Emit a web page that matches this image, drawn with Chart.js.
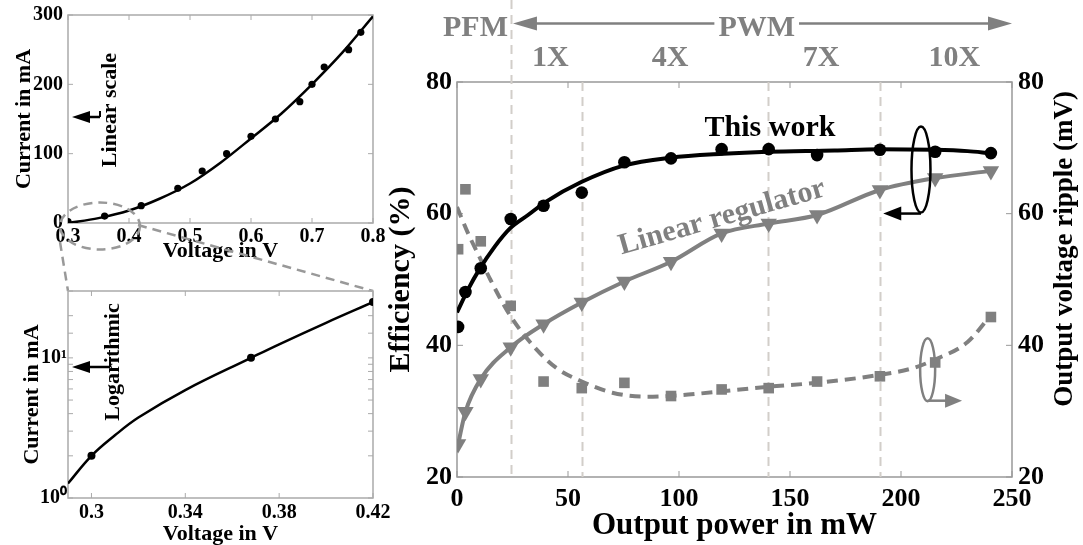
<!DOCTYPE html>
<html>
<head>
<meta charset="utf-8">
<script src="https://cdn.jsdelivr.net/npm/chart.js@4"></script>
<style>
  html, body { margin: 0; padding: 0; background: #fff; }
  #wrap { position: relative; width: 1083px; height: 545px; overflow: hidden; }
  #wrap canvas { position: absolute; left: 0; top: 0; }
</style>
</head>
<body>
<div id="wrap">
  <canvas id="chart-lin" width="1083" height="545"></canvas>
  <canvas id="chart-log" width="1083" height="545"></canvas>
  <canvas id="chart-eff" width="1083" height="545"></canvas>
</div>
<script>
// ---- I-V curve, linear scale (top left)
const ivVoltage = [0.3, 0.36, 0.42, 0.48, 0.52, 0.56, 0.6, 0.64, 0.68, 0.7, 0.72, 0.76, 0.78];
const ivCurrent = [2, 10, 25, 50, 75, 100, 125, 150, 175, 200, 225, 250, 275];
const ivFitVoltage = [0.3, 0.35, 0.4, 0.45, 0.5, 0.55, 0.6, 0.65, 0.7, 0.75, 0.8];
const ivFitCurrent = [0, 7, 18, 35, 57, 87, 122, 158, 200, 246, 298];
const linXTicks = [0.3, 0.4, 0.5, 0.6, 0.7, 0.8];
const linYTicks = [0, 100, 200, 300];

// ---- I-V curve, log scale (bottom left)
const logVoltage = [0.3, 0.368, 0.42];
const logCurrent = [2, 10, 25];
const logFitVoltage = [0.29, 0.3, 0.31, 0.32, 0.34, 0.368, 0.38, 0.4, 0.42];
const logFitCurrent = [1.27, 2, 2.8, 3.75, 5.89, 10, 12.5, 17.8, 25];
const logXTicks = [0.3, 0.34, 0.38, 0.42];

// ---- efficiency / ripple vs output power (right)
const outputPower = [0.5, 3.8, 10.7, 24.2, 39, 56.2, 75.4, 96.4, 119.2, 140.4, 162.2, 190.5, 215.4, 240.5];
const effThisWork = [42.8, 48.1, 51.7, 59.2, 61.2, 63.2, 67.8, 68.4, 69.8, 69.8, 68.9, 69.7, 69.4, 69.2];
const effLinearReg = [25, 29.9, 34.9, 39.7, 43.2, 46.5, 49.7, 52.7, 57.0, 58.5, 59.8, 63.6, 65.4, 66.5];
const rippleMv = [54.6, 63.7, 55.8, 46.0, 34.5, 33.5, 34.3, 32.3, 33.3, 33.5, 34.5, 35.3, 37.4, 44.3];
const effFitPower = [0, 5, 10, 17, 24, 32, 40, 56, 75, 96, 120, 140, 170, 190, 215, 230, 240];
const effFitValue = [45, 48.5, 51.5, 55, 57.8, 59.8, 61.8, 64.8, 67.3, 68.5, 69.1, 69.4, 69.6, 69.8, 69.7, 69.5, 69.2];
const rippleFitPower = [0, 5, 10, 15, 24, 36, 45, 55, 70, 85, 100, 110, 140, 165, 190, 205, 215, 230, 240];
const rippleFitValue = [61, 57, 53.5, 50, 44.5, 39.3, 36.5, 34.7, 32.8, 32.2, 32.4, 32.7, 33.7, 34.4, 35.5, 36.5, 37.8, 40.5, 44.4];
const powerTicks = [0, 50, 100, 150, 200, 250];
const effTicks = [20, 40, 60, 80];
const rippleTicks = [20, 40, 60, 80];
const modeBounds = [24.3, 56.3, 140, 190.5];
const modeLabels = ['1X', '4X', '7X', '10X'];
const modeLabelAt = [42, 96, 164, 224];

const FONT = '"Liberation Serif", "Times New Roman", serif';
const GRAY = '#808080';
Chart.defaults.font.family = FONT;
Chart.defaults.font.weight = 'bold';
Chart.defaults.color = '#000';

function pts(xs, ys) {
  return xs.map((x, i) => ({ x: x, y: ys[i] }));
}

function fixSize(size) {
  return function(scale) {
    if (scale.isHorizontal()) scale.height = size; else scale.width = size;
    scale.paddingLeft = 0; scale.paddingRight = 0;
    scale.paddingTop = 0; scale.paddingBottom = 0;
  };
}

function setTicks(values) {
  return function(scale) {
    scale.ticks = values.map(v => ({ value: v }));
  };
}

// MATLAB style box with inward ticks
const boxTicks = {
  id: 'boxTicks',
  beforeDatasetsDraw(chart, args, opts) {
    const { ctx, chartArea: a } = chart;
    const len = opts.length || 6;
    ctx.save();
    ctx.strokeStyle = opts.color || '#999';
    ctx.lineWidth = 1.5;
    ctx.strokeRect(a.left, a.top, a.width, a.height);
    ctx.lineWidth = 1;
    const xs = chart.scales.x;
    xs.ticks.forEach(t => {
      const px = xs.getPixelForValue(t.value);
      ctx.beginPath();
      ctx.moveTo(px, a.bottom); ctx.lineTo(px, a.bottom - len);
      ctx.moveTo(px, a.top); ctx.lineTo(px, a.top + len);
      ctx.stroke();
    });
    const ys = chart.scales.y;
    ys.ticks.forEach(t => {
      const py = ys.getPixelForValue(t.value);
      ctx.beginPath();
      ctx.moveTo(a.left, py); ctx.lineTo(a.left + len, py);
      ctx.moveTo(a.right, py); ctx.lineTo(a.right - len, py);
      ctx.stroke();
    });
    ctx.restore();
  }
};

function arrow(ctx, x1, y1, x2, y2, color, width, head, half) {
  const ang = Math.atan2(y2 - y1, x2 - x1);
  const c = Math.cos(ang), s = Math.sin(ang);
  ctx.strokeStyle = color; ctx.fillStyle = color; ctx.lineWidth = width;
  ctx.setLineDash([]);
  ctx.beginPath();
  ctx.moveTo(x1, y1);
  ctx.lineTo(x2 - c * head * 0.9, y2 - s * head * 0.9);
  ctx.stroke();
  ctx.beginPath();
  ctx.moveTo(x2, y2);
  ctx.lineTo(x2 - head * c + half * s, y2 - head * s - half * c);
  ctx.lineTo(x2 - head * c - half * s, y2 - head * s + half * c);
  ctx.closePath();
  ctx.fill();
}

function vText(ctx, text, x, y, size, color) {
  ctx.save();
  ctx.translate(x, y);
  ctx.rotate(-Math.PI / 2);
  ctx.font = 'bold ' + size + 'px ' + FONT;
  ctx.fillStyle = color;
  ctx.textAlign = 'center';
  ctx.textBaseline = 'middle';
  ctx.fillText(text, 0, 0);
  ctx.restore();
}

// notes on the linear plot + zoom window to the log plot
const notesLin = {
  id: 'notesLin',
  afterDraw(chart) {
    const ctx = chart.ctx;
    ctx.save();
    vText(ctx, 'Linear scale', 110, 110, 22, '#000');
    ctx.lineWidth = 2;
    ctx.beginPath(); ctx.moveTo(100, 111); ctx.lineTo(100, 117); ctx.stroke();
    arrow(ctx, 100, 117, 72, 117, '#000', 2.5, 18, 6);
    ctx.strokeStyle = '#999';
    ctx.lineWidth = 2.5;
    ctx.setLineDash([9, 6]);
    ctx.beginPath();
    ctx.ellipse(100, 226, 40, 23.5, 0, 0, Math.PI * 2);
    ctx.stroke();
    ctx.beginPath();
    ctx.moveTo(60, 242); ctx.lineTo(68, 291);
    ctx.moveTo(138, 225); ctx.lineTo(373, 291);
    ctx.stroke();
    ctx.restore();
  }
};

const notesLog = {
  id: 'notesLog',
  afterDraw(chart) {
    const ctx = chart.ctx;
    ctx.save();
    vText(ctx, 'Logarithmic', 113, 362, 22, '#000');
    ctx.lineWidth = 2;
    ctx.beginPath(); ctx.moveTo(110, 357); ctx.lineTo(110, 367); ctx.stroke();
    arrow(ctx, 110, 367, 72, 367, '#000', 2.5, 18, 6);
    ctx.restore();
  }
};

const notesEff = {
  id: 'notesEff',
  beforeDatasetsDraw(chart) {
    const { ctx, chartArea: a, scales: { x } } = chart;
    ctx.save();
    ctx.strokeStyle = '#d2cec9';
    ctx.lineWidth = 2;
    ctx.setLineDash([9, 6]);
    modeBounds.forEach((b, i) => {
      const px = Math.round(x.getPixelForValue(b)) + 0.5;
      ctx.beginPath();
      ctx.moveTo(px, i === 0 ? 0 : a.top);
      ctx.lineTo(px, a.bottom);
      ctx.stroke();
    });
    ctx.restore();
  },
  afterDraw(chart) {
    const { ctx, chartArea: a, scales: { x, y } } = chart;
    ctx.save();
    ctx.textAlign = 'center';
    ctx.textBaseline = 'middle';
    ctx.font = 'bold 30px ' + FONT;

    // PFM / PWM header
    const bound = x.getPixelForValue(modeBounds[0]);
    ctx.fillStyle = GRAY;
    ctx.textAlign = 'right';
    ctx.fillText('PFM', bound - 3, 28);
    ctx.textAlign = 'center';
    const pwmX = x.getPixelForValue(135);
    ctx.fillText('PWM', pwmX, 28);
    const pwmHalf = ctx.measureText('PWM').width / 2;
    arrow(ctx, pwmX - pwmHalf - 4, 23.5, bound + 2, 23.5, GRAY, 2.5, 24, 7);
    arrow(ctx, pwmX + pwmHalf + 4, 23.5, a.right, 23.5, GRAY, 2.5, 24, 7);
    modeLabels.forEach((t, i) => ctx.fillText(t, x.getPixelForValue(modeLabelAt[i]), 58));

    // series labels
    ctx.fillStyle = '#000';
    ctx.fillText('This work', x.getPixelForValue(141), y.getPixelForValue(73));
    ctx.save();
    ctx.translate(x.getPixelForValue(119.4), y.getPixelForValue(59.4));
    ctx.rotate(-16 * Math.PI / 180);
    ctx.fillStyle = GRAY;
    ctx.fillText('Linear regulator', 0, 0);
    ctx.restore();

    // right axis title, reading bottom to top
    vText(ctx, 'Output voltage ripple (mV)', 1065, 249, 27, '#000');

    // axis pointers
    const bx = x.getPixelForValue(209), by = y.getPixelForValue(66.7);
    ctx.strokeStyle = '#000'; ctx.lineWidth = 2.5;
    ctx.beginPath(); ctx.ellipse(bx, by, 9.5, 43, 0, 0, Math.PI * 2); ctx.stroke();
    arrow(ctx, bx, by + 44, x.getPixelForValue(192), by + 44, '#000', 2.5, 18, 7);

    const gx = x.getPixelForValue(212), gy = y.getPixelForValue(36.3);
    ctx.strokeStyle = GRAY; ctx.lineWidth = 2.5;
    ctx.beginPath(); ctx.ellipse(gx, gy, 7.5, 31.5, 0, 0, Math.PI * 2); ctx.stroke();
    arrow(ctx, gx, gy + 31, x.getPixelForValue(227.5), gy + 31, GRAY, 2.5, 17, 7);
    ctx.restore();
  }
};

const noLegend = { legend: { display: false }, tooltip: { enabled: false } };

// ---- top left: linear scale
new Chart(document.getElementById('chart-lin'), {
  type: 'scatter',
  data: {
    datasets: [
      { data: pts(ivVoltage, ivCurrent), pointRadius: 3.6, pointBackgroundColor: '#000', pointBorderWidth: 0 },
      { data: pts(ivFitVoltage, ivFitCurrent), showLine: true, pointRadius: 0, borderColor: '#000',
        borderWidth: 2.5, cubicInterpolationMode: 'monotone' }
    ]
  },
  options: {
    responsive: false, animation: false,
    layout: { padding: { left: 13, right: 710, top: 15, bottom: 283 } },
    plugins: Object.assign({ boxTicks: { length: 5, color: '#aaa' } }, noLegend),
    scales: {
      x: {
        type: 'linear', min: 0.3, max: 0.8,
        afterBuildTicks: setTicks(linXTicks), afterFit: fixSize(39),
        grid: { display: false, drawTicks: false }, border: { display: false },
        ticks: { padding: 2, maxRotation: 0, autoSkip: false, font: { size: 20 }, callback: v => v.toFixed(1) },
        title: { display: true, text: 'Voltage in V', padding: 0, font: { size: 22, lineHeight: 1 } }
      },
      y: {
        type: 'linear', min: 0, max: 300,
        afterBuildTicks: setTicks(linYTicks), afterFit: fixSize(55),
        grid: { display: false, drawTicks: false }, border: { display: false },
        ticks: { padding: 5, font: { size: 20 } },
        title: { display: true, text: 'Current in mA', padding: 0, font: { size: 22, lineHeight: 1 } }
      }
    }
  },
  plugins: [boxTicks, notesLin]
});

// ---- bottom left: logarithmic scale
new Chart(document.getElementById('chart-log'), {
  type: 'scatter',
  data: {
    datasets: [
      { data: pts(logVoltage, logCurrent), pointRadius: 4, pointBackgroundColor: '#000', pointBorderWidth: 0 },
      { data: pts(logFitVoltage, logFitCurrent), showLine: true, pointRadius: 0, borderColor: '#000',
        borderWidth: 2.5, tension: 0.4 }
    ]
  },
  options: {
    responsive: false, animation: false,
    layout: { padding: { left: 21, right: 710, top: 291, bottom: 0 } },
    plugins: Object.assign({ boxTicks: { length: 5, color: '#aaa' } }, noLegend),
    scales: {
      x: {
        type: 'linear', min: 0.29, max: 0.42,
        afterBuildTicks: setTicks(logXTicks), afterFit: fixSize(47),
        grid: { display: false, drawTicks: false }, border: { display: false },
        ticks: { padding: 3, maxRotation: 0, autoSkip: false, font: { size: 20 }, callback: v => String(Number(v.toFixed(2))) },
        title: { display: true, text: 'Voltage in V', padding: 0, font: { size: 22, lineHeight: 1 } }
      },
      y: {
        type: 'logarithmic', min: 1, max: 30,
        afterFit: fixSize(47),
        grid: { display: false, drawTicks: false }, border: { display: false },
        ticks: { padding: 1, autoSkip: false, font: { size: 20 },
          callback: v => (v === 1 ? '10\u2070' : v === 10 ? '10\u00b9' : '') },
        title: { display: true, text: 'Current in mA', padding: 0, font: { size: 22, lineHeight: 1 } }
      }
    }
  },
  plugins: [boxTicks, notesLog]
});

// ---- right: efficiency and ripple
new Chart(document.getElementById('chart-eff'), {
  type: 'scatter',
  data: {
    datasets: [
      { data: pts(outputPower, effThisWork), pointRadius: 6.3, pointBackgroundColor: '#000', pointBorderWidth: 0 },
      { data: pts(effFitPower, effFitValue), showLine: true, pointRadius: 0, borderColor: '#000',
        borderWidth: 4, cubicInterpolationMode: 'monotone' },
      { data: pts(outputPower, effLinearReg), showLine: true, pointStyle: 'triangle', rotation: 180,
        pointRadius: 9.5, pointBackgroundColor: GRAY, pointBorderWidth: 0, borderColor: GRAY,
        borderWidth: 4, cubicInterpolationMode: 'monotone' },
      { data: pts(outputPower, rippleMv), yAxisID: 'y2', pointStyle: 'rect', pointRadius: 7.5,
        pointBackgroundColor: GRAY, pointBorderWidth: 0 },
      { data: pts(rippleFitPower, rippleFitValue), yAxisID: 'y2', showLine: true, pointRadius: 0,
        borderColor: GRAY, borderWidth: 4, borderDash: [11, 7], cubicInterpolationMode: 'monotone' }
    ]
  },
  options: {
    responsive: false, animation: false,
    layout: { padding: { left: 386, right: 1, top: 82, bottom: 4 } },
    plugins: Object.assign({ boxTicks: { length: 6, color: '#999' } }, noLegend),
    scales: {
      x: {
        type: 'linear', min: 0, max: 250,
        afterBuildTicks: setTicks(powerTicks), afterFit: fixSize(64),
        grid: { display: false, drawTicks: false }, border: { display: false },
        ticks: { padding: 7, maxRotation: 0, autoSkip: false, font: { size: 26 } },
        title: { display: true, text: 'Output power in mW', padding: 0, font: { size: 31, lineHeight: 1 } }
      },
      y: {
        type: 'linear', position: 'left', min: 20, max: 80,
        afterBuildTicks: setTicks(effTicks), afterFit: fixSize(71),
        grid: { display: false, drawTicks: false }, border: { display: false },
        ticks: { padding: 5, font: { size: 26 } },
        title: { display: true, text: 'Efficiency (%)', padding: 0, font: { size: 30, lineHeight: 1 } }
      },
      y2: {
        type: 'linear', position: 'right', min: 20, max: 80,
        afterBuildTicks: setTicks(rippleTicks), afterFit: fixSize(70),
        grid: { display: false, drawTicks: false }, border: { display: false },
        ticks: { padding: 6, font: { size: 26 } },
        title: { display: false }
      }
    }
  },
  plugins: [boxTicks, notesEff]
});
</script>
</body>
</html>
